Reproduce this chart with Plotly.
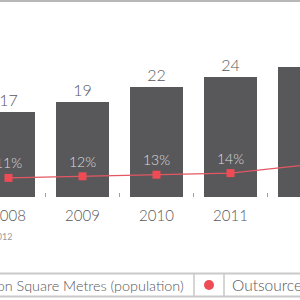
import plotly.graph_objects as go

years = [2008, 2009, 2010, 2011, 2012]
year_labels = ["2008", "2009", "2010", "2011", "2012"]
sqm_million = [17, 19, 22, 24, 26]
outsourced_pct = [11, 12, 13, 14, 19]
pct_labels = ["11%", "12%", "13%", "14%", "19%"]
legend_bar_label = "Million Square Metres (population)"
legend_line_label = "Outsourced share (%)"
source_label = "Source: 2012"

W, H = 300, 300
PLOT_H = 197  # plot area height in px (top margin 0)

def px_x(p):
    return p / W

def px_y(p):
    return 1 - p / PLOT_H

FONT = "Lato"
GRAY = "#58575a"

fig = go.Figure()
fig.add_trace(go.Bar(
    x=years, y=sqm_million, width=0.716,
    marker=dict(color="#58585a", line=dict(width=0)),
    showlegend=False, name=legend_bar_label, hoverinfo="skip",
))
# bar value labels
fig.add_trace(go.Scatter(
    x=years, y=sqm_million, mode="markers+text",
    marker=dict(size=2, opacity=0, color=GRAY),
    text=[str(v) for v in sqm_million], textposition="top center",
    textfont=dict(family=FONT, size=16, color=GRAY, weight=300),
    cliponaxis=False, showlegend=False, hoverinfo="skip",
))
# year labels
fig.add_trace(go.Scatter(
    x=years, y=[0] * len(years), mode="markers+text",
    marker=dict(size=18, opacity=0, color=GRAY),
    text=year_labels, textposition="bottom center",
    textfont=dict(family=FONT, size=15, color=GRAY, weight=300),
    cliponaxis=False, showlegend=False, hoverinfo="skip",
))
fig.add_trace(go.Scatter(
    x=years, y=outsourced_pct, yaxis="y2", mode="lines+markers+text",
    line=dict(color="#e35763", width=1.3),
    marker=dict(symbol="square", size=8, color="#ef4b55"),
    text=pct_labels, textposition="top center",
    textfont=dict(family=FONT, size=14, color="#dcdcdc", weight=300),
    cliponaxis=False, showlegend=False, name=legend_line_label,
))

shapes = []
shapes.append(dict(type="line", xref="paper", yref="paper", x0=0, x1=1,
                   y0=px_y(1), y1=px_y(1), line=dict(color="#b8b8b8", width=2)))
for yy in (273.5, 296.5):
    shapes.append(dict(type="line", xref="paper", yref="paper", x0=0, x1=1,
                       y0=px_y(yy), y1=px_y(yy), line=dict(color="#c9c9c9", width=2)))
for xx in (194, 224):
    shapes.append(dict(type="line", xref="paper", yref="paper", x0=px_x(xx), x1=px_x(xx),
                       y0=px_y(273.5), y1=px_y(296.5), line=dict(color="#c9c9c9", width=1.5)))
shapes.append(dict(type="circle", xref="paper", yref="paper",
                   x0=px_x(204), x1=px_x(214), y0=px_y(280), y1=px_y(290),
                   fillcolor="#ee4b55", line=dict(width=0)))

annotations = [
    dict(text=legend_bar_label, xref="paper", yref="paper", x=px_x(186), y=px_y(285),
         xanchor="right", yanchor="middle", showarrow=False,
         font=dict(family=FONT, size=14.4, color=GRAY, weight=300)),
    dict(text=legend_line_label, xref="paper", yref="paper", x=px_x(230), y=px_y(285),
         xanchor="left", yanchor="middle", showarrow=False,
         font=dict(family=FONT, size=15.5, color=GRAY, weight=300)),
    dict(text=source_label, xref="paper", yref="paper", x=px_x(13.5), y=px_y(236),
         xanchor="right", yanchor="middle", showarrow=False,
         font=dict(family=FONT, size=9, color="#9a9a9a")),
]

fig.update_layout(
    width=W, height=H,
    margin=dict(l=0, r=0, t=0, b=H - PLOT_H, pad=0),
    paper_bgcolor="white", plot_bgcolor="white",
    xaxis=dict(
        range=[2008 - 8.5 / 74, 2008 + 291.5 / 74],
        tickmode="array", tickvals=years, showticklabels=False,
        ticks="", showgrid=False, zeroline=False, showline=False,
        minor=dict(tickmode="array", tickvals=[y + 0.5 for y in [2007] + years],
                   ticks="inside", ticklen=4, tickcolor="#a0a0a0", tickwidth=1, showgrid=False),
    ),
    yaxis=dict(range=[0, PLOT_H / 5.0], visible=False, showgrid=False),
    yaxis2=dict(range=[-1.5 / 1.6, 195.5 / 1.6], overlaying="y", visible=False, showgrid=False),
    shapes=shapes, annotations=annotations,
    bargap=0,
)

fig.write_html("out.html")
